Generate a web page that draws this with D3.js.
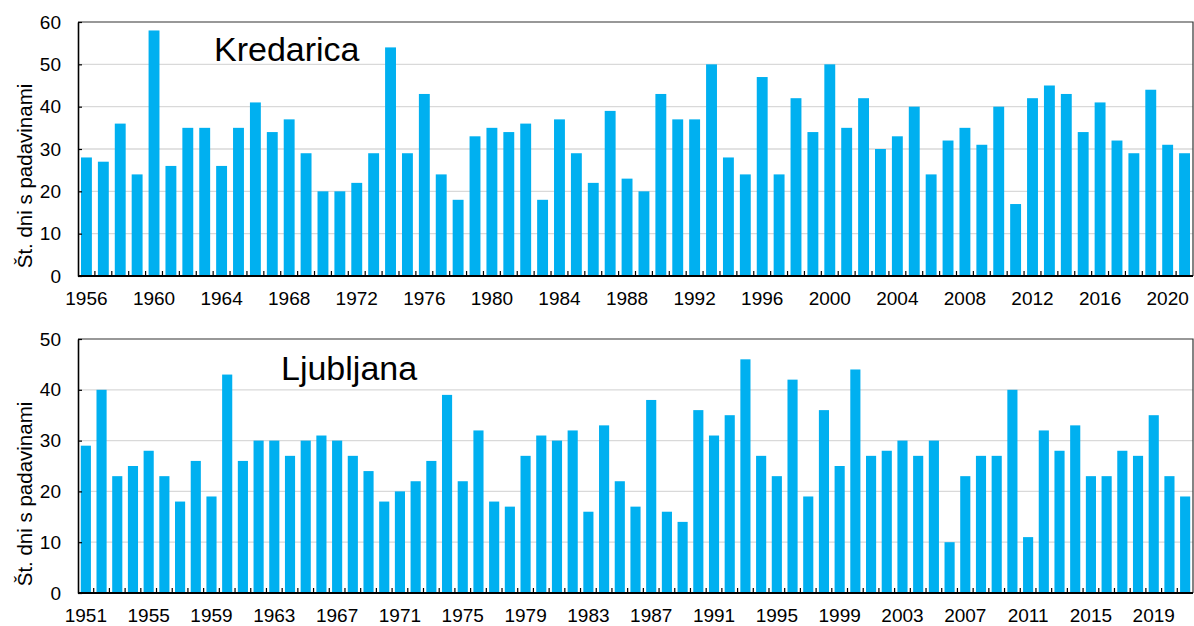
<!DOCTYPE html>
<html>
<head>
<meta charset="utf-8">
<script src="https://cdn.jsdelivr.net/npm/d3@7/dist/d3.min.js"></script>
<style>
  body { margin: 0; background: #fff; }
  svg { display: block; }
  text { font-family: "Liberation Sans", Arial, sans-serif; fill: #000; }
</style>
</head>
<body>
<svg id="chart" width="1194" height="626"></svg>
<script>
// Number of days with precipitation per year, Kredarica
const kredaricaYears = [
  1956, 1957, 1958, 1959, 1960, 1961, 1962, 1963, 1964, 1965, 1966, 1967, 1968, 1969,
  1970, 1971, 1972, 1973, 1974, 1975, 1976, 1977, 1978, 1979, 1980, 1981, 1982, 1983,
  1984, 1985, 1986, 1987, 1988, 1989, 1990, 1991, 1992, 1993, 1994, 1995, 1996, 1997,
  1998, 1999, 2000, 2001, 2002, 2003, 2004, 2005, 2006, 2007, 2008, 2009, 2010, 2011,
  2012, 2013, 2014, 2015, 2016, 2017, 2018, 2019, 2020, 2021
];
const kredaricaDays = [
  28, 27, 36, 24, 58, 26, 35, 35, 26, 35, 41, 34, 37, 29,
  20, 20, 22, 29, 54, 29, 43, 24, 18, 33, 35, 34, 36, 18,
  37, 29, 22, 39, 23, 20, 43, 37, 37, 50, 28, 24, 47, 24,
  42, 34, 50, 35, 42, 30, 33, 40, 24, 32, 35, 31, 40, 17,
  42, 45, 43, 34, 41, 32, 29, 44, 31, 29
];
const kredaricaYTicks = [0, 10, 20, 30, 40, 50, 60];
const kredaricaXLabels = [
  1956, 1960, 1964, 1968, 1972, 1976, 1980, 1984, 1988, 1992, 1996, 2000, 2004,
  2008, 2012, 2016, 2020
];

// Number of days with precipitation per year, Ljubljana
const ljubljanaYears = [
  1951, 1952, 1953, 1954, 1955, 1956, 1957, 1958, 1959, 1960, 1961, 1962, 1963, 1964,
  1965, 1966, 1967, 1968, 1969, 1970, 1971, 1972, 1973, 1974, 1975, 1976, 1977, 1978,
  1979, 1980, 1981, 1982, 1983, 1984, 1985, 1986, 1987, 1988, 1989, 1990, 1991, 1992,
  1993, 1994, 1995, 1996, 1997, 1998, 1999, 2000, 2001, 2002, 2003, 2004, 2005, 2006,
  2007, 2008, 2009, 2010, 2011, 2012, 2013, 2014, 2015, 2016, 2017, 2018, 2019, 2020,
  2021
];
const ljubljanaDays = [
  29, 40, 23, 25, 28, 23, 18, 26, 19, 43, 26, 30, 30, 27,
  30, 31, 30, 27, 24, 18, 20, 22, 26, 39, 22, 32, 18, 17,
  27, 31, 30, 32, 16, 33, 22, 17, 38, 16, 14, 36, 31, 35,
  46, 27, 23, 42, 19, 36, 25, 44, 27, 28, 30, 27, 30, 10,
  23, 27, 27, 40, 11, 32, 28, 33, 23, 23, 28, 27, 35, 23,
  19
];
const ljubljanaYTicks = [0, 10, 20, 30, 40, 50];
const ljubljanaXLabels = [
  1951, 1955, 1959, 1963, 1967, 1971, 1975, 1979, 1983, 1987, 1991, 1995, 1999,
  2003, 2007, 2011, 2015, 2019
];

const yTitle = "Št. dni s padavinami";
const barColor = "#00B0F0";
const tickFont = 19;

const svg = d3.select("#chart");

function drawPanel(cfg) {
  const { years, values, yTicks, xLabels, name, box, titlePos, yTitleCenter } = cfg;
  const g = svg.append("g");

  const x = d3.scaleBand()
    .domain(years)
    .range([box.left, box.right])
    .paddingInner(0.355)
    .paddingOuter(0.355 / 2);

  const y = d3.scaleLinear()
    .domain([0, d3.max(yTicks)])
    .range([box.bottom, box.top]);

  // horizontal gridlines
  g.append("g")
    .selectAll("line")
    .data(yTicks.filter(t => t > 0 && t < d3.max(yTicks)))
    .join("line")
    .attr("x1", box.left).attr("x2", box.right)
    .attr("y1", d => y(d)).attr("y2", d => y(d))
    .attr("stroke", "#d9d9d9")
    .attr("stroke-width", 1.3);

  // bars
  g.append("g")
    .selectAll("rect")
    .data(years.map((yr, i) => ({ yr, v: values[i] })))
    .join("rect")
    .attr("x", d => x(d.yr))
    .attr("width", x.bandwidth())
    .attr("y", d => y(d.v))
    .attr("height", d => y(0) - y(d.v))
    .attr("fill", barColor);

  // frame: top and right edges
  g.append("path")
    .attr("d", `M${box.left},${box.top}H${box.right}V${box.bottom}`)
    .attr("fill", "none")
    .attr("stroke", "#333")
    .attr("stroke-width", 1.2);

  // y axis
  const yAxis = g.append("g")
    .attr("transform", `translate(${box.left},0)`)
    .call(d3.axisLeft(y).tickValues(yTicks).tickSizeInner(-4).tickSizeOuter(0).tickPadding(17));
  yAxis.select(".domain").attr("stroke", "#000").attr("stroke-width", 1.6);
  yAxis.selectAll(".tick line").attr("stroke", "#000").attr("stroke-width", 1.2);
  yAxis.selectAll(".tick text").attr("font-size", tickFont).attr("fill", "#000");

  // x axis labels centred under the bars
  const xAxis = g.append("g")
    .attr("transform", `translate(0,${box.bottom})`)
    .call(d3.axisBottom(x).tickValues(xLabels).tickSize(0).tickPadding(15.5));
  xAxis.select(".domain").remove();
  xAxis.selectAll(".tick text").attr("font-size", tickFont).attr("fill", "#000");

  // tick marks between categories, pointing into the plot
  const gap = (x.step() - x.bandwidth()) / 2;
  g.append("g")
    .selectAll("line")
    .data(years.slice(1))
    .join("line")
    .attr("x1", d => x(d) - gap).attr("x2", d => x(d) - gap)
    .attr("y1", box.bottom).attr("y2", box.bottom - 5)
    .attr("stroke", "#000")
    .attr("stroke-width", 1.2);

  // x axis line
  g.append("line")
    .attr("x1", box.left).attr("x2", box.right)
    .attr("y1", box.bottom).attr("y2", box.bottom)
    .attr("stroke", "#000")
    .attr("stroke-width", 1.8);

  // station name
  g.append("text")
    .attr("x", titlePos[0]).attr("y", titlePos[1])
    .attr("font-size", 34)
    .text(name);

  // y axis title
  g.append("text")
    .attr("transform", `translate(${yTitleCenter[0]},${yTitleCenter[1]}) rotate(-90)`)
    .attr("text-anchor", "middle")
    .attr("font-size", 20.5)
    .text(yTitle);
}

drawPanel({
  years: kredaricaYears,
  values: kredaricaDays,
  yTicks: kredaricaYTicks,
  xLabels: kredaricaXLabels,
  name: "Kredarica",
  box: { left: 78, right: 1193, top: 22, bottom: 276 },
  titlePos: [214, 61],
  yTitleCenter: [32, 176]
});

drawPanel({
  years: ljubljanaYears,
  values: ljubljanaDays,
  yTicks: ljubljanaYTicks,
  xLabels: ljubljanaXLabels,
  name: "Ljubljana",
  box: { left: 78, right: 1193, top: 339, bottom: 593 },
  titlePos: [281, 380],
  yTitleCenter: [32, 494]
});
</script>
</body>
</html>
